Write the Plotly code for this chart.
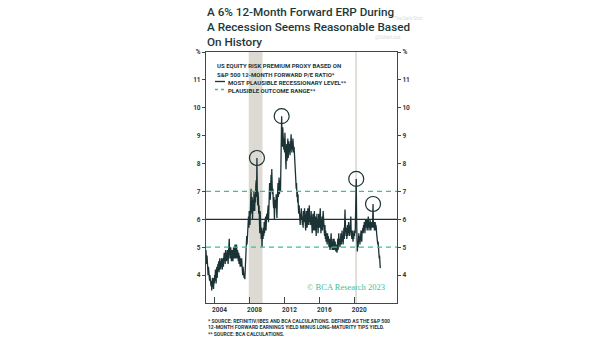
import pandas as pd
import plotly.graph_objects as go

# US equity risk premium proxy (%), twice a month, Jan 2003 - Dec 2022
erp_2003 = [4.9, 4.6, 4.4, 4.7, 4.5, 4.2, 4.0, 4.3, 3.9, 4.2, 3.8, 4.0,
            3.7, 3.9, 3.6, 3.8, 3.45, 3.7, 3.9, 3.6, 3.8, 3.5, 3.9, 3.7]
erp_2004 = [4.0, 3.8, 4.2, 3.9, 3.7, 4.1, 4.3, 3.9, 4.1, 4.4, 4.2, 4.5,
            4.1, 4.4, 4.6, 4.3, 4.2, 4.5, 4.3, 4.6, 4.4, 4.2, 4.6, 4.5]
erp_2005 = [4.3, 4.6, 4.8, 4.5, 4.7, 4.4, 4.9, 4.6, 4.5, 4.8, 4.7, 4.9,
            4.6, 4.4, 4.8, 5.0, 5.3, 4.9, 4.6, 4.8, 5.0, 4.7, 4.5, 4.8]
erp_2006 = [4.9, 4.6, 4.5, 4.8, 5.0, 4.7, 4.6, 4.9, 5.1, 4.8, 4.6, 4.9,
            5.1, 4.8, 4.6, 4.9, 4.7, 4.5, 4.8, 4.4, 4.7, 4.6, 4.3, 4.6]
erp_2007 = [4.5, 4.3, 4.6, 4.2, 4.4, 4.0, 4.3, 4.1, 4.2, 3.9, 4.0, 3.85,
            4.2, 4.6, 5.0, 4.7, 5.4, 5.1, 5.6, 5.2, 5.8, 6.1, 5.7, 6.3]
erp_2008 = [6.1, 5.8, 6.6, 6.2, 7.1, 6.5, 6.2, 6.8, 6.0, 6.4, 6.7, 6.3,
            7.0, 6.5, 6.3, 6.9, 6.6, 7.2, 7.4, 6.8, 8.2, 7.1, 6.5, 7.0]
erp_2009 = [6.8, 6.2, 6.5, 5.9, 5.5, 6.3, 6.0, 5.4, 5.3, 5.7, 5.0, 5.4,
            5.6, 5.3, 5.7, 5.4, 5.9, 5.5, 5.8, 6.0, 6.1, 5.6, 5.8, 6.2]
erp_2010 = [6.0, 6.4, 6.1, 6.5, 5.9, 6.6, 6.9, 7.3, 7.0, 6.7, 7.2, 7.6,
            7.0, 7.8, 7.2, 6.9, 7.1, 6.6, 6.4, 6.8, 6.0, 6.3, 6.7, 6.4]
erp_2011 = [6.5, 6.9, 6.3, 6.05, 6.6, 7.0, 7.3, 6.8, 7.1, 7.5, 6.9, 7.2,
            7.4, 7.0, 8.2, 8.8, 9.7, 9.0, 8.6, 9.3, 8.8, 9.1, 8.5, 8.9]
erp_2012 = [8.4, 9.1, 8.6, 8.2, 7.8, 8.3, 8.7, 8.1, 8.5, 8.9, 8.2, 8.6,
            8.8, 8.4, 8.7, 8.3, 8.9, 8.6, 9.05, 8.7, 8.4, 8.8, 8.5, 8.9]
erp_2013 = [8.7, 8.4, 8.6, 8.2, 8.4, 8.0, 7.8, 7.4, 7.1, 7.3, 6.8, 7.0,
            6.6, 6.9, 6.4, 6.2, 6.5, 6.0, 6.3, 5.8, 6.2, 6.0, 6.4, 5.9]
erp_2014 = [6.2, 5.8, 6.1, 5.7, 6.3, 5.9, 6.0, 6.4, 5.8, 6.2, 5.6, 6.0,
            6.3, 5.9, 5.7, 6.1, 6.4, 6.0, 5.8, 6.2, 6.5, 5.9, 6.1, 5.8]
erp_2015 = [5.9, 6.3, 5.7, 6.1, 5.5, 5.9, 6.2, 5.8, 5.6, 6.0, 6.3, 5.7,
            5.6, 6.1, 5.8, 5.4, 5.9, 6.2, 5.7, 6.0, 5.5, 5.9, 6.2, 5.8]
erp_2016 = [5.7, 6.1, 6.4, 5.8, 5.5, 6.0, 5.7, 6.1, 5.6, 5.9, 6.3, 5.8,
            6.0, 5.6, 5.4, 5.8, 5.3, 5.6, 5.2, 5.5, 5.3, 5.1, 5.5, 5.2]
erp_2017 = [5.4, 5.1, 5.0, 5.3, 5.2, 4.9, 5.1, 5.4, 5.5, 5.0, 5.2, 4.9,
            5.1, 5.3, 4.9, 5.0, 5.3, 5.1, 4.9, 5.2, 5.0, 4.85, 5.1, 4.9]
erp_2018 = [4.8, 5.0, 5.3, 4.9, 5.2, 5.5, 5.1, 5.3, 5.0, 5.4, 5.2, 5.5,
            5.1, 5.3, 5.6, 5.2, 5.4, 5.1, 5.5, 5.7, 5.3, 5.8, 6.35, 5.9]
erp_2019 = [5.6, 5.4, 5.7, 5.3, 5.5, 5.8, 5.4, 5.6, 5.9, 5.5, 5.7, 5.4,
            5.6, 5.8, 6.1, 5.6, 5.5, 5.3, 5.6, 5.4, 5.2, 5.5, 5.3, 5.6]
erp_2020 = [5.4, 5.6, 5.5, 5.9, 6.2, 7.45, 5.9, 5.4, 4.85, 5.2, 5.0, 5.3,
            5.5, 5.2, 5.4, 5.1, 5.5, 5.3, 5.6, 5.4, 5.2, 5.6, 5.5, 5.7]
erp_2021 = [5.5, 5.8, 5.6, 5.9, 5.7, 5.5, 5.9, 6.0, 5.7, 5.8, 6.0, 5.6,
            5.9, 5.7, 6.1, 5.8, 5.6, 5.9, 5.7, 6.0, 5.8, 5.6, 5.9, 5.7]
erp_2022 = [5.9, 5.7, 6.0, 6.55, 5.9, 5.7, 5.9, 5.6, 5.8, 5.9, 5.6, 5.8,
            5.7, 5.5, 5.3, 5.4, 5.1, 5.2, 4.8, 4.9, 4.6, 4.7, 4.4, 4.25]

erp = (erp_2003 + erp_2004 + erp_2005 + erp_2006 + erp_2007 + erp_2008 + erp_2009
       + erp_2010 + erp_2011 + erp_2012 + erp_2013 + erp_2014 + erp_2015 + erp_2016
       + erp_2017 + erp_2018 + erp_2019 + erp_2020 + erp_2021 + erp_2022)
dates = pd.date_range("2003-01-01", periods=len(erp), freq="SMS") + pd.Timedelta(days=7)
series = pd.Series(erp, index=dates)

recession_level = 6.0
outcome_range = [5.0, 7.0]
recessions = [("2007-12-01", "2009-06-30"), ("2020-02-10", "2020-04-20")]
circled_months = ["2008-11", "2011-09", "2020-03", "2022-02"]

ytick_vals = [4, 5, 6, 7, 8, 9, 10, 11, 12]
ytick_text = ["4", "5", "6", "7", "8", "9", "10", "11", "%"]
xtick_years = [2004, 2008, 2012, 2016, 2020]

DARK = "#1b3335"
AXIS = "#3b4a4b"
TEAL = "#3cbf9c"

# plot-area geometry in pixels
W, H = 605, 341
ML, MR, MT, MB = 206, 208, 52, 38
PW, PH = W - ML - MR, H - MT - MB


def px(x):
    return (x - ML) / PW


def py(y):
    return (H - MB - y) / PH


fig = go.Figure()

for start, end in recessions:
    fig.add_vrect(x0=start, x1=end, fillcolor="#dcdad2", line_width=0, layer="below")

fig.add_trace(go.Scatter(x=series.index, y=series.values, mode="lines",
                         line=dict(color=DARK, width=1.3), showlegend=False,
                         hoverinfo="skip"))
# invisible copy to anchor the right-hand axis
fig.add_trace(go.Scatter(x=series.index, y=series.values, mode="lines", yaxis="y2",
                         line=dict(color="rgba(0,0,0,0)", width=0), showlegend=False,
                         hoverinfo="skip"))

fig.add_hline(y=recession_level, line=dict(color=DARK, width=1.3))
for lvl in outcome_range:
    fig.add_hline(y=lvl, line=dict(color=TEAL, width=1.3, dash="5px,4px"))

for m in circled_months:
    sub = series[m]
    d = sub.idxmax()
    v = float(sub.max())
    fig.add_shape(type="circle", xref="x", yref="y", xsizemode="pixel", ysizemode="pixel",
                  xanchor=d, yanchor=v, x0=-7.5, x1=7.5, y0=-7.5, y1=7.5,
                  line=dict(color=DARK, width=1.2))

tick_font = dict(family="Roboto", size=6.5, color="#2b3b3c", weight="bold")
yax = dict(range=[3, 12], tickvals=ytick_vals, ticktext=ytick_text, showgrid=False,
           zeroline=False, showline=True, linecolor=AXIS, linewidth=1.2, ticks="outside",
           ticklen=3, tickcolor=AXIS, tickwidth=1.2, tickfont=tick_font)
fig.update_layout(
    width=W, height=H, margin=dict(l=ML, r=MR, t=MT, b=MB),
    paper_bgcolor="white", plot_bgcolor="white", showlegend=False,
    xaxis=dict(type="date", range=["2003-01-10", "2024-11-20"],
               tickvals=[f"{y}-01-01" for y in xtick_years],
               ticktext=[str(y) for y in xtick_years], ticklabelshift=5,
               showgrid=False, zeroline=False, showline=True, mirror=True,
               linecolor=AXIS, linewidth=1.2, ticks="inside", ticklen=6,
               tickcolor=AXIS, tickwidth=1.2, tickfont=tick_font),
    yaxis=dict(side="left", **yax),
    yaxis2=dict(side="right", overlaying="y", anchor="x", **yax),
)

title_font = dict(family="Roboto", size=11.7, color="#1d3839", weight=500)
title_lines = ["A 6% 12-Month Forward ERP During",
               "A Recession Seems Reasonable Based",
               "On History"]
for i, t in enumerate(title_lines):
    fig.add_annotation(text=t, xref="paper", yref="paper", x=px(205), y=py(12.5 + 14.5 * i),
                       xanchor="left", yanchor="middle", showarrow=False, font=title_font)

wm_font = dict(family="Roboto", size=4.5, color="#d8dde0")
fig.add_annotation(text="The Daily Shot", xref="paper", yref="paper", x=px(425), y=py(19),
                   xanchor="right", yanchor="middle", showarrow=False, font=wm_font)
fig.add_annotation(text="@SoberLook", xref="paper", yref="paper", x=px(403), y=py(37),
                   xanchor="right", yanchor="middle", showarrow=False, font=wm_font)

leg_font = dict(family="Roboto", size=6, color="#1d3839", weight="bold")
fig.add_annotation(text="US EQUITY RISK PREMIUM PROXY BASED ON", xref="paper", yref="paper",
                   x=px(215), y=py(66), xanchor="left", yanchor="middle",
                   showarrow=False, font=leg_font)
fig.add_annotation(text="S&P 500 12-MONTH FORWARD P/E RATIO*", xref="paper", yref="paper",
                   x=px(215), y=py(74), xanchor="left", yanchor="middle",
                   showarrow=False, font=leg_font)
fig.add_annotation(text="MOST PLAUSIBLE RECESSIONARY LEVEL**", xref="paper", yref="paper",
                   x=px(226), y=py(82.5), xanchor="left", yanchor="middle",
                   showarrow=False, font=leg_font)
fig.add_annotation(text="PLAUSIBLE OUTCOME RANGE**", xref="paper", yref="paper",
                   x=px(226), y=py(90.5), xanchor="left", yanchor="middle",
                   showarrow=False, font=leg_font)
fig.add_shape(type="line", xref="paper", yref="paper", x0=px(215), x1=px(225),
              y0=py(81.5), y1=py(81.5), line=dict(color=DARK, width=1.3))
fig.add_shape(type="line", xref="paper", yref="paper", x0=px(215), x1=px(225),
              y0=py(89.5), y1=py(89.5), line=dict(color=TEAL, width=1.3, dash="3px,3px"))

fig.add_annotation(text="© BCA Research 2023", xref="paper", yref="paper", x=px(387),
                   y=py(287), xanchor="right", yanchor="middle", showarrow=False,
                   font=dict(family="Liberation Serif", size=8.5, color=TEAL))

foot_font = dict(family="Roboto", size=5, color="#1d3839", weight="bold")
foot_lines = ["* SOURCE: REFINITIV/IBES AND BCA CALCULATIONS. DEFINED AS THE S&P 500",
              "12-MONTH FORWARD EARNINGS YIELD MINUS LONG-MATURITY TIPS YIELD.",
              "** SOURCE: BCA CALCULATIONS."]
for i, t in enumerate(foot_lines):
    fig.add_annotation(text=t, xref="paper", yref="paper", x=px(206), y=py(321 + 6.3 * i),
                       xanchor="left", yanchor="middle", showarrow=False, font=foot_font)

fig.write_html("out.html")
